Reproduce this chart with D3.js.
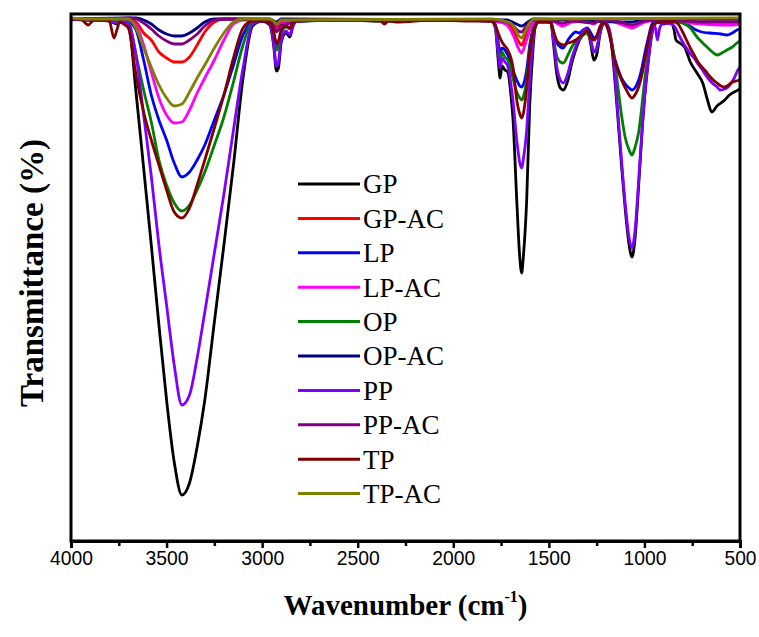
<!DOCTYPE html>
<html>
<head>
<meta charset="utf-8">
<script src="https://d3js.org/d3.v7.min.js"></script>
<style>
  body { margin: 0; background: #fff; }
  svg { display: block; }
</style>
</head>
<body>
<script>
var width = 759, height = 637;
var plotLeft = 71, plotRight = 740, plotTop = 14, plotBottom = 541;

// wavenumber (cm-1), transmittance (a.u. %)
var gp = [[4000,99.4],[3950,99.4],[3900,99.2],[3850,99.4],[3800,99.0],[3760,98.4],[3730,99.0],[3700,98.4],
  [3660,84.8],[3620,69.6],[3580,54.2],[3540,38.2],[3500,23.2],[3460,10.8],[3420,4.2],[3380,6.6],[3340,13.8],
  [3300,23.2],[3250,38.8],[3200,54.2],[3150,70.2],[3100,87.6],[3050,98.0],[3000,99.0],[2960,98.2],[2940,94.2],
  [2925,89.0],[2915,89.6],[2900,94.8],[2875,96.6],[2855,95.8],[2840,97.8],[2820,99.0],[2600,99.2],[2360,99.0],
  [2100,99.2],[1900,99.2],[1800,99.0],[1780,97.6],[1765,91.2],[1755,87.6],[1745,90.0],[1730,89.2],[1715,88.8],
  [1700,84.8],[1688,79.6],[1668,63.2],[1652,51.6],[1642,48.6],[1634,51.6],[1616,63.2],[1600,82.2],[1585,92.2],
  [1572,97.6],[1555,98.8],[1510,98.8],[1490,98.6],[1475,94.2],[1460,88.8],[1440,85.6],[1425,85.2],[1400,87.2],
  [1380,90.6],[1360,93.2],[1340,95.2],[1320,96.8],[1300,97.2],[1280,94.2],[1265,91.2],[1250,92.2],[1230,96.8],
  [1210,98.6],[1190,97.8],[1175,95.2],[1160,89.6],[1140,80.2],[1120,70.2],[1100,61.2],[1080,54.2],[1065,51.8],
  [1050,55.2],[1030,66.2],[1010,78.2],[1000,83.2],[980,90.8],[960,96.6],[940,98.6],[920,98.8],[900,98.4],
  [880,98.6],[860,98.6],[845,97.2],[835,95.2],[815,94.6],[790,93.8],[760,90.8],[725,88.6],[695,86.6],
  [670,83.2],[648,80.8],[620,82.0],[600,82.6],[580,83.2],[555,84.2],[530,84.8],[510,85.2],[500,85.4]];

var gpAc = [[4000,99.4],[3800,99.4],[3700,99.4],[3660,98.8],[3620,96.6],[3580,95.2],[3540,92.8],[3500,91.6],
  [3460,90.8],[3420,90.8],[3380,91.8],[3340,94.2],[3300,96.8],[3250,98.8],[3200,99.4],[2960,99.2],[2940,98.6],
  [2925,97.8],[2900,98.8],[2880,99.2],[2380,99.2],[2360,98.6],[2340,99.2],[1800,99.2],[1720,98.6],[1700,98.0],
  [1680,96.6],[1660,95.0],[1642,94.2],[1625,95.6],[1600,98.0],[1580,99.0],[1500,99.2],[1430,98.4],[1400,98.8],
  [1300,99.0],[1265,98.6],[1230,99.2],[1150,98.8],[1100,98.2],[1065,98.0],[1030,98.4],[980,99.2],[800,99.0],
  [700,98.8],[600,98.8],[500,98.8]];

var lp = [[4000,99.4],[3900,99.2],[3800,99.2],[3740,99.0],[3700,98.8],[3660,97.2],[3620,91.2],[3580,84.2],
  [3540,79.2],[3500,75.2],[3460,70.6],[3420,67.8],[3380,68.8],[3340,71.2],[3300,74.2],[3250,79.2],[3200,84.2],
  [3150,90.2],[3100,96.2],[3050,98.8],[3000,99.0],[2960,98.6],[2940,96.6],[2925,94.0],[2915,94.4],[2900,97.0],
  [2875,98.0],[2855,97.6],[2840,98.6],[2820,99.0],[2500,99.2],[2000,99.2],[1800,99.0],[1780,98.2],[1765,94.8],
  [1755,92.8],[1745,93.6],[1730,93.2],[1715,92.2],[1700,90.8],[1688,89.2],[1668,87.2],[1652,86.0],[1642,85.8],
  [1634,86.2],[1616,89.2],[1600,94.2],[1585,97.2],[1572,98.4],[1555,99.0],[1510,99.0],[1490,98.8],[1475,96.8],
  [1460,94.8],[1440,93.8],[1425,93.6],[1400,95.2],[1380,96.2],[1360,96.8],[1340,96.6],[1320,97.2],[1300,97.6],
  [1280,96.6],[1265,95.6],[1250,96.0],[1230,98.0],[1210,98.8],[1190,97.6],[1175,95.2],[1160,92.2],[1140,89.6],
  [1120,87.6],[1100,86.4],[1080,85.6],[1065,85.2],[1050,85.6],[1030,87.2],[1010,90.2],[1000,92.2],[980,95.6],
  [960,98.4],[940,99.0],[880,99.0],[800,98.8],[772,98.2],[740,97.4],[700,96.8],[657,96.6],[600,96.4],
  [568,96.2],[540,96.6],[516,97.2],[500,97.4]];

var lpAc = [[4000,99.4],[3800,99.2],[3700,99.2],[3660,98.2],[3620,94.2],[3580,88.8],[3540,83.6],[3500,80.2],
  [3460,78.6],[3420,78.8],[3380,81.2],[3340,84.6],[3300,87.6],[3250,91.2],[3200,95.2],[3150,98.4],[3100,99.2],
  [2960,99.0],[2940,98.2],[2925,97.2],[2915,97.4],[2900,98.4],[2870,98.8],[2850,98.6],[2830,99.2],[2000,99.2],
  [1760,98.8],[1720,98.2],[1700,97.2],[1680,95.6],[1660,93.6],[1642,92.6],[1625,94.2],[1600,97.2],[1580,98.8],
  [1560,99.2],[1500,99.2],[1460,98.6],[1430,98.0],[1400,98.4],[1380,98.8],[1300,99.0],[1265,98.4],[1230,99.2],
  [1160,98.8],[1100,98.0],[1065,97.6],[1030,98.2],[980,99.0],[900,99.2],[840,99.0],[760,98.6],[700,98.4],
  [600,98.2],[540,98.2],[500,98.4]];

var op = [[4000,99.4],[3900,99.2],[3800,99.2],[3740,99.0],[3700,98.8],[3660,92.2],[3620,85.2],[3580,78.8],
  [3540,71.2],[3500,66.2],[3460,62.6],[3420,61.0],[3380,62.2],[3340,65.2],[3300,68.8],[3250,74.2],[3200,79.8],
  [3150,86.8],[3100,94.2],[3050,98.8],[3000,99.0],[2960,98.6],[2940,96.2],[2925,93.2],[2915,93.8],[2900,96.6],
  [2875,97.8],[2855,97.4],[2840,98.4],[2820,99.0],[2500,99.2],[2000,99.2],[1800,99.0],[1780,97.8],[1765,93.2],
  [1755,91.2],[1745,92.8],[1730,91.8],[1715,91.2],[1700,89.6],[1688,87.6],[1668,84.8],[1652,83.6],[1642,83.2],
  [1634,83.8],[1616,87.2],[1600,93.2],[1585,96.8],[1572,98.2],[1555,99.0],[1510,99.0],[1490,98.8],[1475,95.2],
  [1460,92.2],[1440,90.8],[1425,90.6],[1400,92.2],[1380,93.8],[1360,94.8],[1340,95.2],[1320,96.2],[1300,96.6],
  [1280,94.8],[1265,92.8],[1250,93.6],[1230,97.2],[1210,98.8],[1190,97.8],[1175,95.6],[1160,92.2],[1140,86.2],
  [1120,80.2],[1100,75.6],[1080,73.2],[1065,72.2],[1050,73.6],[1030,76.8],[1010,83.2],[1000,86.8],[980,92.2],
  [960,97.2],[940,98.8],[900,99.0],[840,99.0],[820,98.8],[790,98.4],[760,97.6],[725,95.8],[700,94.8],
  [673,93.8],[645,92.8],[620,92.2],[595,92.6],[568,93.2],[540,93.8],[516,94.6],[500,95.0]];

var opAc = [[4000,99.4],[3700,99.6],[3660,99.6],[3620,99.2],[3580,98.4],[3540,97.2],[3500,96.4],[3460,96.0],
  [3420,96.0],[3380,96.6],[3340,97.6],[3300,98.8],[3250,99.4],[2960,99.4],[2925,98.8],[2900,99.4],[1720,99.2],
  [1680,98.6],[1642,98.0],[1610,98.8],[1580,99.4],[1065,98.8],[1000,99.4],[500,99.4]];

var pp = [[4000,99.2],[3950,99.4],[3900,99.2],[3850,99.2],[3800,99.0],[3760,98.6],[3730,99.0],[3700,98.4],
  [3660,92.2],[3620,80.2],[3580,68.0],[3540,54.2],[3500,42.2],[3460,30.2],[3420,22.2],[3380,24.2],[3340,31.6],
  [3300,40.8],[3250,52.6],[3200,64.4],[3150,77.2],[3100,89.6],[3050,98.4],[3000,99.0],[2960,98.4],[2940,94.6],
  [2925,90.0],[2915,90.8],[2900,95.2],[2875,97.0],[2855,96.2],[2840,98.0],[2820,99.0],[2600,99.2],[2100,99.2],
  [1800,99.2],[1780,97.8],[1765,92.8],[1755,89.6],[1745,91.6],[1730,90.8],[1715,90.0],[1700,86.8],[1688,83.2],
  [1668,75.2],[1652,70.6],[1642,69.6],[1634,71.2],[1616,77.2],[1600,87.2],[1585,94.2],[1572,98.0],[1555,99.0],
  [1510,99.0],[1490,98.8],[1475,95.2],[1460,90.2],[1440,87.2],[1425,86.6],[1400,88.6],[1380,91.6],[1360,93.8],
  [1340,95.6],[1320,97.0],[1300,97.4],[1280,95.2],[1265,92.8],[1250,93.6],[1230,97.2],[1210,98.8],[1190,98.0],
  [1175,95.6],[1160,90.6],[1140,81.2],[1120,71.2],[1100,62.2],[1080,55.6],[1065,53.6],[1050,56.8],[1030,67.2],
  [1010,78.8],[1000,83.6],[980,91.2],[960,96.8],[945,98.0],[932,95.2],[920,97.6],[900,98.6],[860,98.4],
  [840,97.8],[820,96.2],[800,94.8],[780,93.6],[760,92.4],[740,91.6],[720,90.4],[700,89.4],[680,88.2],
  [660,87.2],[640,86.4],[620,85.8],[605,85.2],[580,85.4],[553,86.2],[530,87.6],[511,89.2],[500,89.8]];

var ppAc = [[4000,99.4],[3800,99.4],[3700,99.6],[3660,99.4],[3620,98.6],[3580,97.4],[3540,96.0],[3500,95.0],
  [3460,94.4],[3420,94.4],[3380,95.2],[3340,96.4],[3300,98.0],[3250,99.2],[3200,99.4],[2960,99.2],[2940,98.2],
  [2925,96.8],[2915,97.2],[2900,98.2],[2850,98.6],[2830,99.2],[1800,99.2],[1700,98.6],[1680,97.8],[1660,97.0],
  [1642,96.8],[1625,97.6],[1600,98.8],[1580,99.2],[1500,99.2],[1430,98.6],[1380,99.0],[1265,98.6],[1230,99.2],
  [1150,99.0],[1065,98.2],[1000,99.0],[900,99.2],[800,99.0],[700,98.8],[600,98.8],[500,98.8]];

var tp = [[4000,99.4],[3950,99.4],[3910,98.2],[3880,99.2],[3800,99.0],[3775,95.6],[3760,97.2],[3745,98.8],
  [3725,98.4],[3700,97.6],[3660,88.2],[3620,80.8],[3580,75.2],[3540,70.2],[3500,65.2],[3460,60.8],[3420,59.6],
  [3380,61.6],[3340,66.2],[3300,71.2],[3250,77.6],[3200,84.2],[3150,91.6],[3100,97.6],[3050,99.0],[3000,99.0],
  [2960,98.6],[2940,96.8],[2925,94.6],[2915,95.0],[2900,97.2],[2875,98.0],[2855,97.6],[2840,98.6],[2820,99.0],
  [2600,99.2],[2380,99.0],[2360,98.4],[2340,99.0],[2300,98.8],[2100,99.2],[1900,99.0],[1800,99.0],[1780,98.2],
  [1765,96.6],[1755,95.6],[1745,94.8],[1730,94.0],[1715,93.2],[1700,91.8],[1688,89.8],[1668,83.2],[1652,80.4],
  [1642,79.6],[1634,80.4],[1616,85.6],[1600,92.8],[1585,96.2],[1572,97.8],[1555,98.8],[1510,98.8],[1490,98.6],
  [1475,96.8],[1460,95.2],[1440,94.4],[1425,94.2],[1400,94.6],[1380,94.8],[1360,95.2],[1340,95.8],[1320,96.4],
  [1300,97.2],[1280,95.6],[1265,95.2],[1250,95.8],[1230,98.0],[1210,98.6],[1190,97.2],[1175,94.8],[1160,91.6],
  [1140,89.2],[1120,87.2],[1100,85.6],[1080,84.2],[1065,83.6],[1050,84.2],[1030,85.8],[1010,88.8],[1000,90.8],
  [980,94.8],[960,98.0],[940,98.6],[920,98.8],[880,98.8],[840,98.8],[820,98.2],[800,96.8],[780,95.2],
  [760,93.6],[740,92.2],[720,90.8],[700,89.8],[680,89.0],[660,88.0],[640,87.2],[620,86.6],[600,86.0],
  [580,85.8],[560,86.2],[540,86.8],[520,87.0],[500,87.2]];

var tpAc = [[4000,99.6],[3900,99.4],[3800,99.4],[3700,99.4],[3660,97.6],[3620,93.6],[3580,89.8],[3540,86.2],
  [3500,83.6],[3460,82.0],[3420,82.4],[3380,84.8],[3340,87.6],[3300,90.2],[3250,93.6],[3200,96.6],[3150,98.8],
  [3100,99.4],[2960,99.4],[2940,99.0],[2925,98.4],[2900,99.2],[1800,99.4],[1700,98.6],[1680,97.6],[1660,96.2],
  [1642,95.6],[1625,96.8],[1600,98.6],[1580,99.4],[500,99.6]];

var names = ['GP', 'GP-AC', 'LP', 'LP-AC', 'OP', 'OP-AC', 'PP', 'PP-AC', 'TP', 'TP-AC'];
var colors = ['#000000', '#ff0000', '#0000ff', '#ff00ff', '#008000', '#000080', '#8000ff', '#800080', '#800000', '#808000'];
var spectra = [gp, gpAc, lp, lpAc, op, opAc, pp, ppAc, tp, tpAc];

var majorTicks = [4000, 3500, 3000, 2500, 2000, 1500, 1000, 500];
var minorTicks = [3750, 3250, 2750, 2250, 1750, 1250, 750];

var svg = d3.select('body').append('svg')
    .attr('width', width)
    .attr('height', height);

var x = d3.scaleLinear().domain([4000, 500]).range([plotLeft, plotRight]);
var y = d3.scaleLinear().domain([-5, 100]).range([plotBottom, 16]);

svg.append('clipPath').attr('id', 'clip')
  .append('rect')
    .attr('x', plotLeft).attr('y', plotTop)
    .attr('width', plotRight - plotLeft).attr('height', plotBottom - plotTop);

var line = d3.line()
    .x(function(d) { return x(d[0]); })
    .y(function(d) { return y(d[1]); })
    .curve(d3.curveMonotoneX);

svg.append('g').attr('clip-path', 'url(#clip)')
  .selectAll('path')
  .data(spectra)
  .enter().append('path')
    .attr('d', line)
    .attr('fill', 'none')
    .attr('stroke', function(d, i) { return colors[i]; })
    .attr('stroke-width', 2.8)
    .attr('stroke-linejoin', 'round');

// frame
svg.append('rect')
    .attr('x', plotLeft).attr('y', plotTop)
    .attr('width', plotRight - plotLeft).attr('height', plotBottom - plotTop)
    .attr('fill', 'none')
    .attr('stroke', '#000')
    .attr('stroke-width', 3);

// bottom axis
var xAxis = svg.append('g')
    .attr('transform', 'translate(0,' + plotBottom + ')')
    .call(d3.axisBottom(x).tickValues(majorTicks).tickSize(7).tickPadding(2).tickFormat(d3.format('d')));
xAxis.select('.domain').attr('stroke-width', 3);
xAxis.selectAll('.tick line').attr('stroke-width', 2.5);
xAxis.selectAll('text')
    .attr('font-family', 'Liberation Sans, Arial, sans-serif')
    .attr('font-size', 21)
    .attr('fill', '#000')
    .attr('textLength', 43)
    .attr('lengthAdjust', 'spacingAndGlyphs');
xAxis.selectAll('.tick').filter(function(d) { return d < 1000; }).select('text')
    .attr('textLength', 32);

var xMinor = svg.append('g')
    .attr('transform', 'translate(0,' + plotBottom + ')')
    .call(d3.axisBottom(x).tickValues(minorTicks).tickSize(5).tickFormat(''));
xMinor.select('.domain').remove();
xMinor.selectAll('.tick line').attr('stroke-width', 2.5);

// axis titles
svg.append('text')
    .attr('transform', 'translate(43,273) rotate(-90)')
    .attr('text-anchor', 'middle')
    .attr('font-family', 'Liberation Serif, Times New Roman, serif')
    .attr('font-weight', 'bold')
    .attr('font-size', 33)
    .text('Transmittance (%)');

var xt = svg.append('text')
    .attr('x', (plotLeft + plotRight) / 2)
    .attr('y', 615)
    .attr('text-anchor', 'middle')
    .attr('font-family', 'Liberation Serif, Times New Roman, serif')
    .attr('font-weight', 'bold')
    .attr('font-size', 29);
xt.append('tspan').text('Wavenumber (cm');
xt.append('tspan').attr('font-size', 16).attr('dy', -13).text('-1');
xt.append('tspan').attr('dy', 13).text(')');

// legend
var legend = svg.append('g')
  .selectAll('g')
  .data(names)
  .enter().append('g')
    .attr('transform', function(d, i) { return 'translate(298,' + (184 + i * 34.4) + ')'; });
legend.append('line')
    .attr('x1', 0).attr('x2', 62)
    .attr('stroke', function(d, i) { return colors[i]; })
    .attr('stroke-width', 3);
legend.append('text')
    .attr('x', 65)
    .attr('dy', '0.35em')
    .attr('font-family', 'Liberation Serif, Times New Roman, serif')
    .attr('font-size', 27)
    .text(function(d) { return d; });
</script>
</body>
</html>
